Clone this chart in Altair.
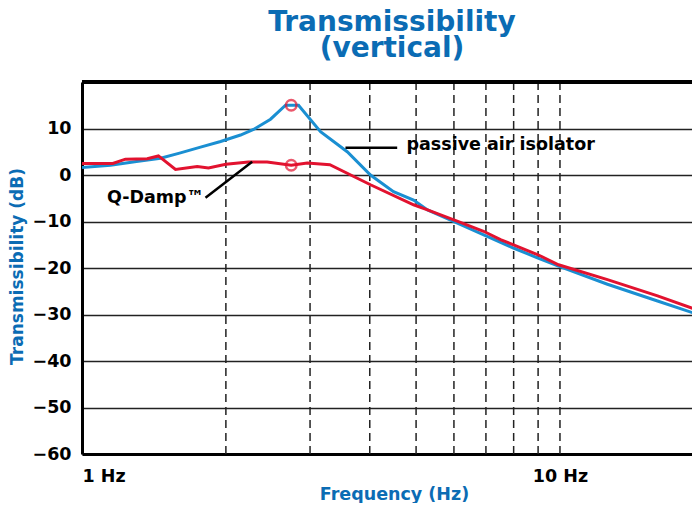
import altair as alt
import pandas as pd

# passive air isolator (blue)
blue_freq = [1.0, 1.147, 1.3, 1.46, 1.6, 1.77, 1.95, 2.146, 2.285, 2.48, 2.666, 2.838,
             3.155, 3.588, 4.014, 4.485, 4.94, 5.283, 5.987, 7.04, 7.99, 8.97, 9.93,
             12.57, 16.0, 19.7]
blue_db = [1.6, 2.1, 2.9, 3.6, 4.7, 6.0, 7.2, 8.6, 9.8, 12.0, 15.0, 15.0,
           9.3, 5.0, 0.0, -3.6, -5.4, -7.5, -10.0, -13.2, -15.7, -17.8, -19.6,
           -23.5, -27.1, -30.2]

# Q-Damp (red)
red_freq = [1.0, 1.16, 1.233, 1.369, 1.445, 1.569, 1.742, 1.839, 2.0, 2.23, 2.44, 2.74,
            2.96, 3.3, 4.014, 4.94, 5.283, 6.19, 6.92, 7.51, 8.97, 9.93, 12.57, 16.0, 19.7]
red_db = [2.5, 2.5, 3.4, 3.5, 4.1, 1.2, 1.8, 1.5, 2.3, 2.8, 2.8, 2.1,
          2.6, 2.2, -2.1, -6.4, -7.5, -10.2, -12.1, -13.9, -17.1, -19.3, -22.5, -26.0, -29.3]

grid_freq = [2, 3, 4, 5, 6, 7, 8, 9, 10]
y_ticks = [-60, -50, -40, -30, -20, -10, 0, 10]
x_ticks = [1, 10]

marker_freq = [2.74, 2.74]
marker_db = [15.0, 2.1]

label_text = ["passive air isolator", "Q-Damp™"]
label_freq = [4.775, 1.80]
label_db = [6.4, -4.9]
label_align = ["left", "right"]

leader_freq = [3.558, 1.813]
leader_db = [5.87, -4.88]
leader_freq2 = [4.565, 2.27]
leader_db2 = [5.87, 2.86]

BLUE = "#1a8fd2"
RED = "#e2122f"
TITLE_BLUE = "#0b6cb4"
FONT = "DejaVu Sans"
FS = 17.5

df = pd.concat([
    pd.DataFrame({"f": blue_freq, "db": blue_db, "s": "passive"}),
    pd.DataFrame({"f": red_freq, "db": red_db, "s": "qdamp"}),
])
grid_df = pd.DataFrame({"f": grid_freq})
mark_df = pd.DataFrame({"f": marker_freq, "db": marker_db})
lab_df = pd.DataFrame({"f": label_freq, "db": label_db, "t": label_text, "a": label_align})
lead_df = pd.DataFrame({"f": leader_freq, "db": leader_db, "f2": leader_freq2, "db2": leader_db2})

xscale = alt.Scale(type="log", domain=[1, 18.89], nice=False)
yscale = alt.Scale(domain=[-60, 20], nice=False, zero=False)

xaxis = alt.Axis(values=x_ticks, labelExpr="datum.value + ' Hz'", title="Frequency (Hz)",
                 grid=False, ticks=False, domainWidth=3, domainColor="black",
                 labelFont=FONT, labelFontSize=FS, labelFontWeight="bold", labelColor="black",
                 labelFlush=True, labelPadding=13,
                 titleFont=FONT, titleFontSize=FS, titleFontWeight="bold", titleColor=TITLE_BLUE,
                 titleX=312, titleY=45, titleBaseline="alphabetic", titleAlign="center")
yaxis = alt.Axis(values=y_ticks, title="Transmissibility (dB)", grid=True, gridColor="#222222",
                 gridWidth=1.5, ticks=False, domainWidth=3, domainColor="black",
                 labelFont=FONT, labelFontSize=FS, labelFontWeight="bold", labelColor="black",
                 labelPadding=11,
                 titleFont=FONT, titleFontSize=17, titleFontWeight="bold", titleColor=TITLE_BLUE,
                 titleX=-60, titleY=184, titleAngle=-90, titleBaseline="alphabetic",
                 titleAlign="center")

vgrid = alt.Chart(grid_df).mark_rule(color="#222222", strokeWidth=1.5, strokeDash=[8, 5]).encode(
    x=alt.X("f:Q", scale=xscale, axis=xaxis)
)
top = alt.Chart(grid_df).mark_rule(color="black", strokeWidth=3).encode(
    y=alt.value(0)
)
lines = alt.Chart(df).mark_line(strokeWidth=3, clip=True).encode(
    x=alt.X("f:Q", scale=xscale),
    y=alt.Y("db:Q", scale=yscale, axis=yaxis),
    color=alt.Color("s:N", scale=alt.Scale(domain=["passive", "qdamp"], range=[BLUE, RED]), legend=None),
    order=alt.Order("f:Q"),
)
markers = alt.Chart(mark_df).mark_point(shape="circle", filled=False, color=RED, strokeWidth=2.5, size=110).encode(
    x="f:Q", y="db:Q"
)
leaders = alt.Chart(lead_df).mark_rule(color="black", strokeWidth=2.5).encode(
    x="f:Q", y="db:Q", x2="f2:Q", y2="db2:Q"
)
labels_left = alt.Chart(lab_df[lab_df.a == "left"]).mark_text(
    align="left", baseline="middle", font=FONT, fontSize=FS, fontWeight="bold", color="black"
).encode(x="f:Q", y="db:Q", text="t:N")
labels_right = alt.Chart(lab_df[lab_df.a == "right"]).mark_text(
    align="right", baseline="middle", font=FONT, fontSize=FS, fontWeight="bold", color="black"
).encode(x="f:Q", y="db:Q", text="t:N")

chart = alt.layer(vgrid, top, lines, markers, leaders, labels_left, labels_right).properties(
    width=610, height=372,
    title=alt.TitleParams(["Transmissibility", "(vertical)"], font=FONT, fontSize=28,
                          fontWeight="bold", color=TITLE_BLUE, anchor="middle", frame="group",
                          lineHeight=26, offset=18, dx=5),
    autosize=alt.AutoSizeParams(type="none"),
    padding={"left": 74, "top": 74, "right": 0, "bottom": 49},
).configure_view(fill="#eef5fc", stroke=None).configure(background="white")

chart.save("out.html", embed_options={"renderer": "svg", "actions": False})
